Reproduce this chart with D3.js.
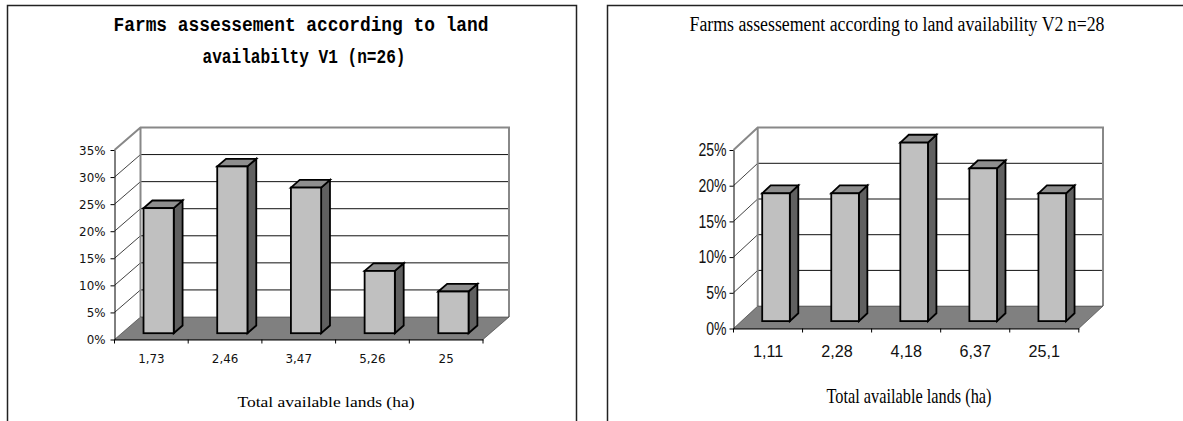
<!DOCTYPE html>
<html>
<head>
<meta charset="utf-8">
<script src="https://cdn.jsdelivr.net/npm/d3@7"></script>
<style>
  body { margin: 0; background: #fff; }
  svg { display: block; }
</style>
</head>
<body>
<svg id="chart" width="1183" height="421"></svg>
<script>
// chart V1
var v1Categories = ["1,73", "2,46", "3,47", "5,26", "25"];
var v1Values = [23.1, 30.8, 26.9, 11.5, 7.7];
var v1Ticks = [0, 5, 10, 15, 20, 25, 30, 35];
var v1Title = ["Farms assessement according to land", "availabilty V1 (n=26)"];

// chart V2
var v2Categories = ["1,11", "2,28", "4,18", "6,37", "25,1"];
var v2Values = [17.9, 17.9, 25.0, 21.4, 17.9];
var v2Ticks = [0, 5, 10, 15, 20, 25];
var v2Title = ["Farms assessement according to land availability V2 n=28"];

var xTitle = "Total available lands (ha)";

var svg = d3.select("#chart");

// panel frames (bottom is cut off in the picture)
svg.append("path")
	.attr("d", "M7.5,425V5.5H576.5V425")
	.attr("fill", "none").attr("stroke", "#222").attr("stroke-width", 1.5);
svg.append("path")
	.attr("d", "M607.5,425V5.5H1190")
	.attr("fill", "none").attr("stroke", "#222").attr("stroke-width", 1.5);

// squeeze a label horizontally, like the narrow fonts of the original
function squeeze(sel, k) {
	sel.each(function() {
		if (k < 1) {
			d3.select(this)
				.attr("textLength", this.getComputedTextLength() * k)
				.attr("lengthAdjust", "spacingAndGlyphs");
		}
	});
}

function drawChart(cfg) {
	var g = svg.append("g");
	var x = d3.scaleBand().domain(cfg.categories).range([cfg.x0, cfg.x1]).padding(0);
	var y = d3.scaleLinear().domain([0, d3.max(cfg.ticks)]).range([cfg.y0, cfg.yTop]);
	var dx = cfg.dx, dy = cfg.dy;
	var top = d3.max(cfg.ticks);

	// back wall
	g.append("rect")
		.attr("x", cfg.x0 + dx).attr("y", y(top) + dy)
		.attr("width", cfg.x1 - cfg.x0).attr("height", y(0) - y(top))
		.attr("fill", "#fff");

	// grid lines on the back wall + diagonals on the side wall
	var inner = cfg.ticks.filter(function(t) { return t > 0 && t < top; });
	g.selectAll("line.grid").data(inner).enter().append("line")
		.attr("class", "grid")
		.attr("x1", cfg.x0 + dx).attr("x2", cfg.x1 + dx)
		.attr("y1", function(d) { return y(d) + dy; })
		.attr("y2", function(d) { return y(d) + dy; })
		.attr("stroke", "#111").attr("stroke-width", 1);
	g.selectAll("line.diag").data(inner).enter().append("line")
		.attr("class", "diag")
		.attr("x1", cfg.x0).attr("x2", cfg.x0 + dx)
		.attr("y1", function(d) { return y(d); })
		.attr("y2", function(d) { return y(d) + dy; })
		.attr("stroke", "#111").attr("stroke-width", 0.8);

	// wall outline
	g.append("path")
		.attr("d", "M" + cfg.x0 + "," + y(top) +
			"L" + (cfg.x0 + dx) + "," + (y(top) + dy) +
			"H" + (cfg.x1 + dx) + "V" + (y(0) + dy) +
			"M" + (cfg.x0 + dx) + "," + (y(top) + dy) + "V" + (y(0) + dy))
		.attr("fill", "none").attr("stroke", "#888").attr("stroke-width", 2);

	// floor
	g.append("polygon")
		.attr("points", [
			[cfg.x0, y(0)], [cfg.x1, y(0)],
			[cfg.x1 + dx, y(0) + dy], [cfg.x0 + dx, y(0) + dy]
		].join(" "))
		.attr("fill", "#808080").attr("stroke", "#333").attr("stroke-width", 0.6);

	// y axis
	var yAxis = g.append("g")
		.attr("transform", "translate(" + cfg.x0 + ",0)")
		.call(d3.axisLeft(y).tickValues(cfg.ticks).tickFormat(function(d) { return d + "%"; })
			.tickSize(4).tickSizeOuter(0).tickPadding(cfg.yPad));
	yAxis.select(".domain").attr("stroke", "#000");
	yAxis.selectAll(".tick line").attr("stroke", "#000");
	yAxis.selectAll("text")
		.attr("font-family", cfg.tickFont).attr("font-size", cfg.yFontSize)
		.attr("fill", "#111")
		.call(squeeze, cfg.ySqueeze);

	// x axis
	var xAxis = g.append("g")
		.attr("transform", "translate(0," + cfg.y0 + ")")
		.call(d3.axisBottom(x).tickSize(0).tickSizeOuter(0).tickPadding(cfg.xPad));
	xAxis.select(".domain").attr("stroke", "#000");
	xAxis.selectAll("text")
		.attr("font-family", cfg.tickFont).attr("font-size", cfg.xFontSize)
		.attr("fill", "#111")
		.call(squeeze, cfg.xSqueeze);
	var edges = cfg.categories.map(function(c) { return x(c); }).concat([cfg.x1]);
	xAxis.selectAll("line.edge").data(edges).enter().append("line")
		.attr("class", "edge")
		.attr("x1", function(d) { return d; }).attr("x2", function(d) { return d; })
		.attr("y1", 0).attr("y2", 4)
		.attr("stroke", "#000");

	// bars
	var bw = x.bandwidth() * cfg.barWidth;
	var s1x = cfg.f1 * dx, s1y = cfg.f1 * dy, s2x = cfg.f2 * dx, s2y = cfg.f2 * dy;
	var bars = g.selectAll("g.bar")
		.data(cfg.values.map(function(v, i) { return {cat: cfg.categories[i], v: v}; }))
		.enter().append("g").attr("class", "bar");
	function left(d) { return x(d.cat) + (x.bandwidth() - bw) / 2; }
	bars.append("polygon")
		.attr("points", function(d) {
			var a = left(d) + bw, t = y(d.v), b = y(0);
			return [[a + s1x, t + s1y], [a + s2x, t + s2y], [a + s2x, b + s2y], [a + s1x, b + s1y]].join(" ");
		})
		.attr("fill", "#606060");
	bars.append("polygon")
		.attr("points", function(d) {
			var l = left(d), t = y(d.v);
			return [[l + s1x, t + s1y], [l + s2x, t + s2y], [l + bw + s2x, t + s2y], [l + bw + s1x, t + s1y]].join(" ");
		})
		.attr("fill", "#8e8e8e");
	bars.append("rect")
		.attr("x", function(d) { return left(d) + s1x; })
		.attr("y", function(d) { return y(d.v) + s1y; })
		.attr("width", bw)
		.attr("height", function(d) { return y(0) - y(d.v); })
		.attr("fill", "#c0c0c0");
	bars.selectAll("polygon, rect")
		.attr("stroke", "#000").attr("stroke-width", 1.8).attr("stroke-linejoin", "miter");

	// titles
	cfg.title.forEach(function(line, i) {
		g.append("text")
			.attr("x", cfg.titleX[i]).attr("y", cfg.titleY[i])
			.attr("text-anchor", "middle")
			.attr("font-family", cfg.titleFont).attr("font-weight", cfg.titleWeight)
			.attr("font-size", cfg.titleSize)
			.attr("textLength", cfg.titleLen[i]).attr("lengthAdjust", "spacingAndGlyphs")
			.text(line);
	});
	g.append("text")
		.attr("x", cfg.axisTitleX).attr("y", cfg.axisTitleY)
		.attr("text-anchor", "middle")
		.attr("font-family", "'Liberation Serif', serif")
		.attr("font-size", cfg.axisTitleSize)
		.attr("textLength", cfg.axisTitleLen).attr("lengthAdjust", "spacingAndGlyphs")
		.text(xTitle);
}

drawChart({
	categories: v1Categories, values: v1Values, ticks: v1Ticks, title: v1Title,
	x0: 114.5, x1: 483, y0: 339.5, yTop: 150, dx: 26, dy: -22.5,
	f1: 0.28, f2: 0.62, barWidth: 0.41,
	tickFont: "'DejaVu Sans', sans-serif", yFontSize: 12.5, xFontSize: 12.5,
	ySqueeze: 0.95, xSqueeze: 0.95, yPad: 5, xPad: 15,
	titleFont: "'Liberation Mono', monospace", titleWeight: "bold", titleSize: 20,
	titleX: [301, 304], titleY: [31, 63], titleLen: [375, 203],
	axisTitleX: 326, axisTitleY: 407, axisTitleSize: 15, axisTitleLen: 177
});

drawChart({
	categories: v2Categories, values: v2Values, ticks: v2Ticks, title: v2Title,
	x0: 733.5, x1: 1078.8, y0: 328.5, yTop: 150, dx: 24.2, dy: -22.4,
	f1: 0.33, f2: 0.68, barWidth: 0.40,
	tickFont: "'Liberation Sans', sans-serif", yFontSize: 18, xFontSize: 17,
	ySqueeze: 0.78, xSqueeze: 0.95, yPad: 3, xPad: 16,
	titleFont: "'Liberation Serif', serif", titleWeight: "normal", titleSize: 20,
	titleX: [897], titleY: [31], titleLen: [415],
	axisTitleX: 909, axisTitleY: 403, axisTitleSize: 22, axisTitleLen: 165
});
</script>
</body>
</html>
